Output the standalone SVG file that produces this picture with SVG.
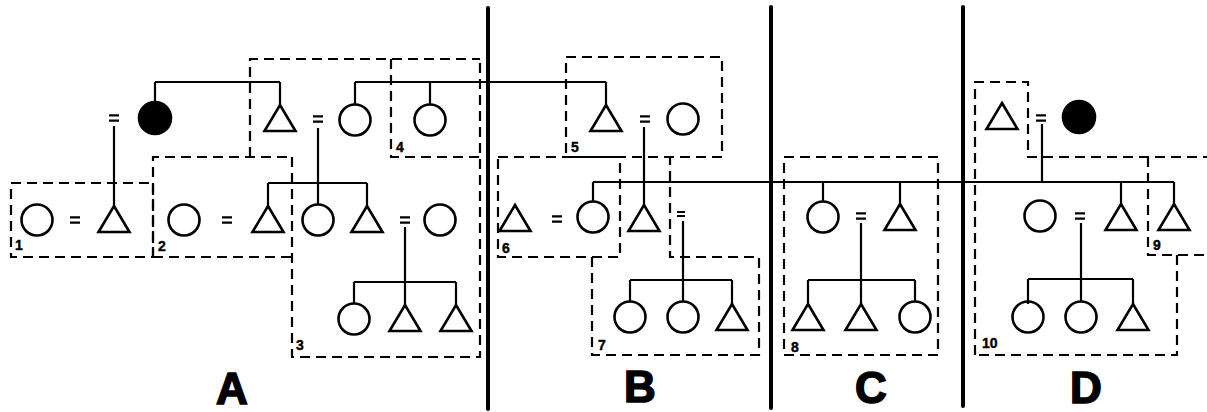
<svg xmlns="http://www.w3.org/2000/svg" xmlns:xlink="http://www.w3.org/1999/xlink" width="1207" height="412" viewBox="0 0 1207 412">
  <style>
    .shape { fill: none; stroke: #000; stroke-width: 2.6; stroke-linejoin: miter; }
    .filled { fill: #000; stroke: #000; stroke-width: 2.6; }
    .line { fill: none; stroke: #000; stroke-width: 2.2; stroke-linecap: butt; }
    .dash { fill: none; stroke: #000; stroke-width: 2.2; stroke-dasharray: 10 6; }
    .sep { stroke: #000; stroke-width: 4; stroke-linecap: round; }
    .num { font-family: "Liberation Sans", Arial, sans-serif; font-weight: bold; font-size: 14px; fill: #000; stroke: #000; stroke-width: 0.4; }
    .part { font-family: "Liberation Sans", Arial, sans-serif; font-weight: bold; font-size: 44px; fill: #000; stroke: #000; stroke-width: 1.6; text-anchor: middle; }
  </style>
  <defs>
    <!-- female: circle centred on origin -->
    <circle id="female" class="shape" r="15.5"/>
    <circle id="female-d" class="filled" r="16"/>
    <!-- male: triangle with its apex on origin -->
    <path id="male" class="shape" d="M0,0 L15.5,26 L-15.5,26 Z"/>
    <!-- marriage sign -->
    <path id="marr" class="line" d="M-5,-2.6h10M-5,2.6h10" style="stroke-width:2.4"/>
  </defs>

  <rect width="1207" height="412" fill="#fff"/>

  <!-- section dividers -->
  <g id="dividers">
    <line class="sep" x1="488" y1="8" x2="488" y2="409"/>
    <line class="sep" x1="771" y1="7" x2="771" y2="408"/>
    <line class="sep" x1="963" y1="7" x2="963" y2="406"/>
  </g>

  <!-- dashed group outlines -->
  <g id="groups">
    <rect class="dash" x="11" y="183" width="142" height="74"/>
    <path class="dash" d="M153,257 V157 H292"/>
    <path class="dash" d="M153,257 H292"/>
    <path class="dash" d="M250,157 V59 H480"/>
    <path class="dash" d="M391,59 V157 H480"/>
    <path class="dash" d="M292,157 V357 H480 V59"/>
    <rect class="dash" x="566" y="57" width="156" height="100"/>
    <rect class="dash" x="498" y="157" width="122" height="100"/>
    <path class="dash" d="M592,257 V355 H759 V257 H670 V157"/>
    <rect class="dash" x="784" y="157" width="154" height="198"/>
    <path class="dash" d="M975,355 V82 H1028 V157 H1207"/>
    <path class="dash" d="M1148,157 V255 H1207"/>
    <path class="dash" d="M1177,255 V355 H975"/>
  </g>

  <!-- descent and sibling lines -->
  <g id="connectors">
    <path class="line" d="M155,82 H280 M155,82 V102 M280,82 V105"/>
    <path class="line" d="M355,82 H606 M355,82 V105 M430,82 V105 M606,82 V105"/>
    <path class="line" d="M114,126 V206"/>
    <path class="line" d="M318,128 V204 M268,183 H367 M268,183 V206 M367,183 V206"/>
    <path class="line" d="M405,227 V305 M354,282 H456 M354,282 V303 M456,282 V305"/>
    <path class="line" d="M644,127 V205"/>
    <path class="line" d="M593,182 H1174 M593,182 V201 M823,182 V201 M900,182 V204 M1121,182 V204 M1174,182 V204"/>
    <path class="line" d="M1042,124 V182"/>
    <path class="line" d="M683,221 V301 M630,280 H732 M630,280 V301 M732,280 V304"/>
    <path class="line" d="M861,223 V304 M808,280 H915 M808,280 V304 M915,280 V301"/>
    <path class="line" d="M1081,223 V301 M1028,279 H1133 M1028,279 V304 M1133,279 V304"/>
  </g>

  <!-- section A -->
  <g id="a-f1"><use xlink:href="#female-d" x="155" y="118"/></g>
  <g id="a-m1"><use xlink:href="#male" x="280" y="105"/></g>
  <g id="a-mr1"><use xlink:href="#marr" x="318" y="119"/></g>
  <g id="a-f2"><use xlink:href="#female" x="355" y="120"/></g>
  <g id="a-f3"><use xlink:href="#female" x="430" y="120"/></g>
  <g id="a-mr0"><use xlink:href="#marr" x="114" y="118"/></g>

  <g id="a-f4"><use xlink:href="#female" x="37" y="220"/></g>
  <g id="a-mr2"><use xlink:href="#marr" x="75" y="220"/></g>
  <g id="a-m2"><use xlink:href="#male" x="114" y="206"/></g>
  <g id="a-f5"><use xlink:href="#female" x="184" y="220"/></g>
  <g id="a-mr3"><use xlink:href="#marr" x="227" y="220"/></g>
  <g id="a-m3"><use xlink:href="#male" x="268" y="206"/></g>
  <g id="a-f6"><use xlink:href="#female" x="318" y="220"/></g>
  <g id="a-m4"><use xlink:href="#male" x="367" y="206"/></g>
  <g id="a-mr4"><use xlink:href="#marr" x="405" y="220"/></g>
  <g id="a-f7"><use xlink:href="#female" x="440" y="220"/></g>

  <g id="a-f8"><use xlink:href="#female" x="354" y="319"/></g>
  <g id="a-m5"><use xlink:href="#male" x="405" y="305"/></g>
  <g id="a-m6"><use xlink:href="#male" x="456" y="305"/></g>

  <!-- section B -->
  <g id="b-m1"><use xlink:href="#male" x="606" y="105"/></g>
  <g id="b-mr1"><use xlink:href="#marr" x="645" y="119"/></g>
  <g id="b-f1"><use xlink:href="#female" x="683" y="119"/></g>

  <g id="b-m2"><use xlink:href="#male" x="515" y="205"/></g>
  <g id="b-mr2"><use xlink:href="#marr" x="557" y="219"/></g>
  <g id="b-f2"><use xlink:href="#female" x="593" y="217"/></g>
  <g id="b-m3"><use xlink:href="#male" x="644" y="205"/></g>
  <g id="b-mr3"><use xlink:href="#marr" transform="translate(681,214) scale(0.8)"/></g>

  <g id="b-f3"><use xlink:href="#female" x="630" y="317"/></g>
  <g id="b-f4"><use xlink:href="#female" x="683" y="317"/></g>
  <g id="b-m4"><use xlink:href="#male" x="732" y="304"/></g>

  <!-- section C -->
  <g id="c-f1"><use xlink:href="#female" x="823" y="217"/></g>
  <g id="c-mr1"><use xlink:href="#marr" x="861" y="216"/></g>
  <g id="c-m1"><use xlink:href="#male" x="900" y="204"/></g>

  <g id="c-m2"><use xlink:href="#male" x="808" y="304"/></g>
  <g id="c-m3"><use xlink:href="#male" x="861" y="304"/></g>
  <g id="c-f2"><use xlink:href="#female" x="915" y="317"/></g>

  <!-- section D -->
  <g id="d-m1"><use xlink:href="#male" x="1002" y="103"/></g>
  <g id="d-mr1"><use xlink:href="#marr" x="1041" y="118"/></g>
  <g id="d-f1"><use xlink:href="#female-d" x="1079" y="117"/></g>

  <g id="d-f2"><use xlink:href="#female" x="1040" y="216"/></g>
  <g id="d-mr2"><use xlink:href="#marr" x="1080" y="216"/></g>
  <g id="d-m2"><use xlink:href="#male" x="1121" y="204"/></g>
  <g id="d-m3"><use xlink:href="#male" x="1174" y="204"/></g>

  <g id="d-f3"><use xlink:href="#female" x="1028" y="317"/></g>
  <g id="d-f4"><use xlink:href="#female" x="1081" y="317"/></g>
  <g id="d-m4"><use xlink:href="#male" x="1133" y="304"/></g>

  <!-- group numbers -->
  <g id="group-numbers">
    <text class="num" x="15" y="250">1</text>
    <text class="num" x="158" y="251">2</text>
    <text class="num" x="296" y="350">3</text>
    <text class="num" x="396" y="152">4</text>
    <text class="num" x="571" y="152">5</text>
    <text class="num" x="502" y="253">6</text>
    <text class="num" x="598" y="350">7</text>
    <text class="num" x="791" y="352">8</text>
    <text class="num" x="1153" y="250">9</text>
    <text class="num" x="982" y="348">10</text>
  </g>

  <!-- section letters -->
  <g id="section-letters">
    <text class="part" x="232" y="404">A</text>
    <text class="part" x="640" y="402">B</text>
    <text class="part" x="871" y="403">C</text>
    <text class="part" x="1086" y="403">D</text>
  </g>
</svg>
